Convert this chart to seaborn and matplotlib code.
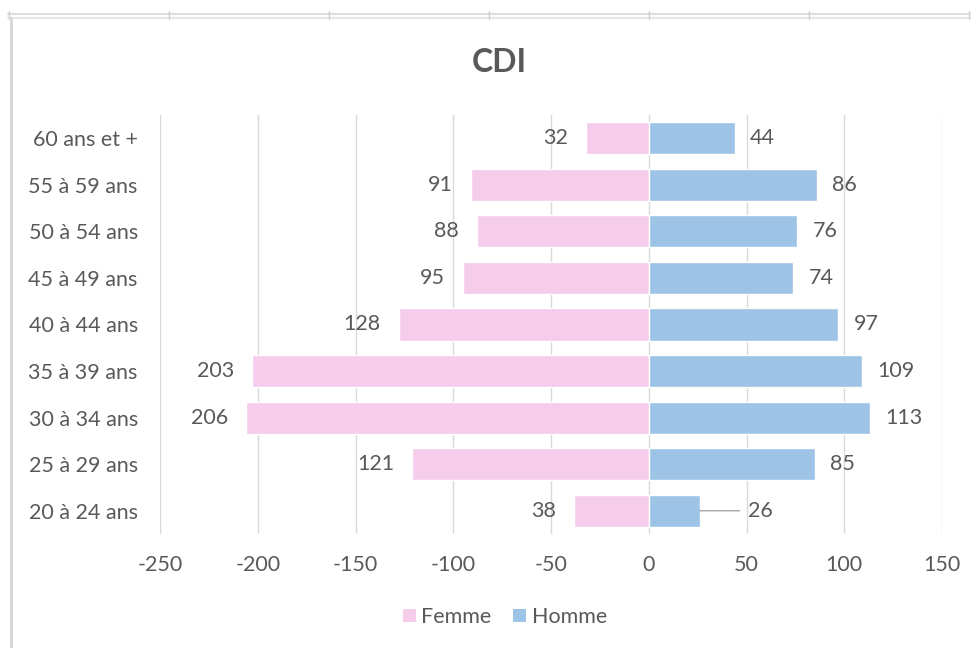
import matplotlib
matplotlib.use("Agg")
import matplotlib.pyplot as plt
from matplotlib.lines import Line2D
from matplotlib.patches import Patch
import pandas as pd
import seaborn as sns

ages = ['60 ans et +', '55 à 59 ans', '50 à 54 ans', '45 à 49 ans', '40 à 44 ans',
        '35 à 39 ans', '30 à 34 ans', '25 à 29 ans', '20 à 24 ans']
femme = [32, 91, 88, 95, 128, 203, 206, 121, 38]
homme = [44, 86, 76, 74, 97, 109, 113, 85, 26]
x_ticks = [-250, -200, -150, -100, -50, 0, 50, 100, 150]

pink = '#F5CCEA'
blue = '#9DC3E6'
text_col = '#595959'
grid_col = '#D9D9D9'
fs = 15.5

sns.set_style('white')
plt.rcParams['font.family'] = ['Lato', 'DejaVu Sans']

df = pd.DataFrame({'age': ages, 'femme': [-v for v in femme], 'homme': homme})

fig = plt.figure(figsize=(9.71, 6.48), dpi=100)
W, H = 971, 648
ax = fig.add_axes([160 / W, 1 - 534 / H, 782 / W, 419 / H])

sns.barplot(data=df, x='femme', y='age', orient='h', color=pink, width=0.69,
            saturation=1, ax=ax, order=ages)
sns.barplot(data=df, x='homme', y='age', orient='h', color=blue, width=0.69,
            saturation=1, ax=ax, order=ages)

ax.set_xlim(-250, 150)
ax.set_xticks(x_ticks)
ax.set_xticklabels([str(t) for t in x_ticks])
ax.set_xlabel('')
ax.set_ylabel('')
ax.set_axisbelow(True)
ax.grid(axis='x', color=grid_col, lw=1)
ax.grid(axis='y', visible=False)
for s in ax.spines.values():
    s.set_visible(False)
ax.tick_params(axis='both', length=0, labelsize=fs, colors=text_col)
ax.tick_params(axis='x', pad=15)
ax.tick_params(axis='y', pad=16)

# data labels
for i, (f, h) in enumerate(zip(femme, homme)):
    ax.annotate(str(f), xy=(-f, i), xytext=(-13, 0), textcoords='offset points',
                ha='right', va='center', fontsize=fs, color=text_col)
    if h < 30:
        ax.annotate(str(h), xy=(h, i), xytext=(35, 0), textcoords='offset points',
                    ha='left', va='center', fontsize=fs, color=text_col,
                    arrowprops=dict(arrowstyle='-', color='#A6A6A6', lw=1,
                                    relpos=(0, 0.5), shrinkA=4, shrinkB=0))
    else:
        ax.annotate(str(h), xy=(h, i), xytext=(11, 0), textcoords='offset points',
                    ha='left', va='center', fontsize=fs, color=text_col)

fig.text(499 / W, 1 - 62 / H, 'CDI', ha='center', va='center', fontsize=23,
         fontweight='bold', color=text_col)

handles = [Patch(facecolor=pink, edgecolor='none', label='Femme'),
           Patch(facecolor=blue, edgecolor='none', label='Homme')]
fig.legend(handles=handles, loc='center', bbox_to_anchor=(505 / W, 1 - 617 / H),
           ncol=2, frameon=False, fontsize=fs, handlelength=0.6, handleheight=0.6,
           handletextpad=0.25, columnspacing=1.0, labelcolor=text_col)

# spreadsheet frame around the chart
fig.add_artist(Line2D([8 / W, 1], [1 - 14 / H, 1 - 14 / H], color='#DDDDDD', lw=1.5))
fig.add_artist(Line2D([8 / W, 1], [1 - 17.5 / H, 1 - 17.5 / H], color='#E6E6E6', lw=1.5))
for xp in [9, 169, 329, 489, 649, 809, 969]:
    fig.add_artist(Line2D([xp / W, xp / W], [1 - 11 / H, 1 - 19 / H], color='#D0D0D0', lw=1))
fig.add_artist(Line2D([11 / W, 11 / W], [0, 1 - 18 / H], color='#D6D6D6', lw=2))

fig.savefig('out.png', dpi=100)
